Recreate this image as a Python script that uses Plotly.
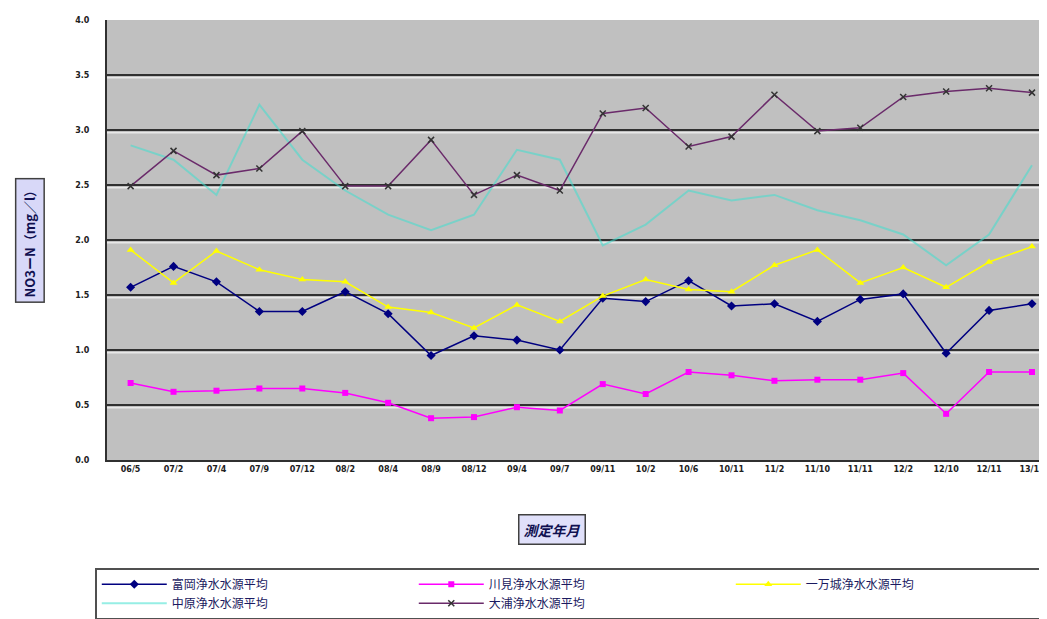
import plotly.graph_objects as go

# measurement months (x categories)
months = ["06/5", "07/2", "07/4", "07/9", "07/12", "08/2", "08/4", "08/9", "08/12",
          "09/4", "09/7", "09/11", "10/2", "10/6", "10/11", "11/2", "11/10", "11/11",
          "12/2", "12/10", "12/11", "13/10"]

tomioka = [1.57, 1.76, 1.62, 1.35, 1.35, 1.53, 1.33, 0.95, 1.13, 1.09, 1.00,
           1.47, 1.44, 1.63, 1.40, 1.42, 1.26, 1.46, 1.51, 0.97, 1.36, 1.42]
kawami = [0.70, 0.62, 0.63, 0.65, 0.65, 0.61, 0.52, 0.38, 0.39, 0.48, 0.45,
          0.69, 0.60, 0.80, 0.77, 0.72, 0.73, 0.73, 0.79, 0.42, 0.80, 0.80]
ichimanjo = [1.91, 1.61, 1.90, 1.73, 1.64, 1.62, 1.39, 1.34, 1.20, 1.41, 1.26,
             1.49, 1.64, 1.55, 1.53, 1.77, 1.91, 1.61, 1.75, 1.57, 1.80, 1.94]
nakahara = [2.86, 2.73, 2.41, 3.23, 2.73, 2.45, 2.23, 2.09, 2.23, 2.82, 2.73,
            1.95, 2.14, 2.45, 2.36, 2.41, 2.27, 2.18, 2.05, 1.77, 2.05, 2.68]
oura = [2.49, 2.81, 2.59, 2.65, 2.99, 2.49, 2.49, 2.91, 2.41, 2.59, 2.45,
        3.15, 3.20, 2.85, 2.94, 3.32, 2.99, 3.02, 3.30, 3.35, 3.38, 3.34]

series_names = ["富岡浄水水源平均", "川見浄水水源平均", "一万城浄水水源平均",
                "中原浄水水源平均", "大浦浄水水源平均"]

y_ticks = [0.0, 0.5, 1.0, 1.5, 2.0, 2.5, 3.0, 3.5, 4.0]

idx = list(range(len(months)))

fig = go.Figure()
fig.add_trace(go.Scatter(x=idx, y=tomioka, name=series_names[0], mode="lines+markers",
                         line=dict(color="#000080", width=1.5),
                         marker=dict(symbol="diamond", size=7, color="#000080")))
fig.add_trace(go.Scatter(x=idx, y=kawami, name=series_names[1], mode="lines+markers",
                         line=dict(color="#ff00ff", width=1.5),
                         marker=dict(symbol="square", size=6, color="#ff00ff")))
fig.add_trace(go.Scatter(x=idx, y=ichimanjo, name=series_names[2], mode="lines+markers",
                         line=dict(color="#ffff00", width=1.5),
                         marker=dict(symbol="triangle-up", size=7, color="#ffff00")))
fig.add_trace(go.Scatter(x=idx, y=nakahara, name=series_names[3], mode="lines",
                         line=dict(color="#40e0d0", width=2), opacity=0.55))
fig.add_trace(go.Scatter(x=idx, y=oura, name=series_names[4], mode="lines+markers",
                         line=dict(color="#6a2a6a", width=1.5),
                         marker=dict(symbol="x-thin", size=6, color="#333333",
                                     line=dict(width=1.5, color="#333333"))))

# light highlight under each gridline (3D look of the original)
for t in y_ticks[1:-1]:
    fig.add_shape(type="line", xref="paper", x0=0, x1=1, yref="y", y0=t - 0.025, y1=t - 0.025,
                  line=dict(color="#e8e8e8", width=1.5), layer="below")

# the page adds an 8px body margin, so the figure is 8px smaller than the window
fig.update_layout(
    width=1039, height=611,
    margin=dict(l=99, r=0, t=12, b=159, autoexpand=False),
    paper_bgcolor="white",
    plot_bgcolor="#c0c0c0",
    font=dict(family="Noto Sans CJK JP", color="#101030"),
    showlegend=True,
    legend=dict(orientation="h", x=-0.013, xanchor="left", y=-0.245, yanchor="top",
                itemwidth=65, entrywidth=237, entrywidthmode="pixels",
                bordercolor="#505050", borderwidth=2, bgcolor="white",
                font=dict(size=12, color="#1a1a60"), tracegroupgap=0),
)
fig.update_xaxes(range=[-0.55, 21.35], tickmode="array", tickvals=idx, ticktext=months,
                 tickfont=dict(size=8, family="DejaVu Sans", color="#202020", weight="bold"),
                 showgrid=False, showline=True, linecolor="#303030", linewidth=2,
                 ticks="", zeroline=False, tickangle=0, automargin=False)
fig.update_yaxes(range=[0, 4.0], tickmode="array", tickvals=y_ticks,
                 ticktext=[f"{v:.1f}" for v in y_ticks],
                 tickfont=dict(size=8, family="DejaVu Sans", color="#202020", weight="bold"),
                 showgrid=True, gridcolor="#303030", gridwidth=2,
                 showline=True, linecolor="#303030", linewidth=2,
                 ticks="", ticklabelstandoff=14, zeroline=False, automargin=False)

fig.add_annotation(text="<b>NO3ーN（mg／l）</b>", xref="paper", yref="paper",
                   x=-0.082, y=0.5, xanchor="center", yanchor="middle",
                   textangle=-90, showarrow=False,
                   font=dict(size=13, color="#101050"), bgcolor="#d8d8f8",
                   bordercolor="#404040", borderwidth=1.5, borderpad=4)
fig.add_annotation(text="<b><i>測定年月</i></b>", xref="paper", yref="paper",
                   x=0.473, y=-0.159, xanchor="center", yanchor="middle", showarrow=False,
                   font=dict(size=14, color="#101050"), bgcolor="#e0e0fa",
                   bordercolor="#404040", borderwidth=1.5, borderpad=4)

fig.write_html("out.html")
